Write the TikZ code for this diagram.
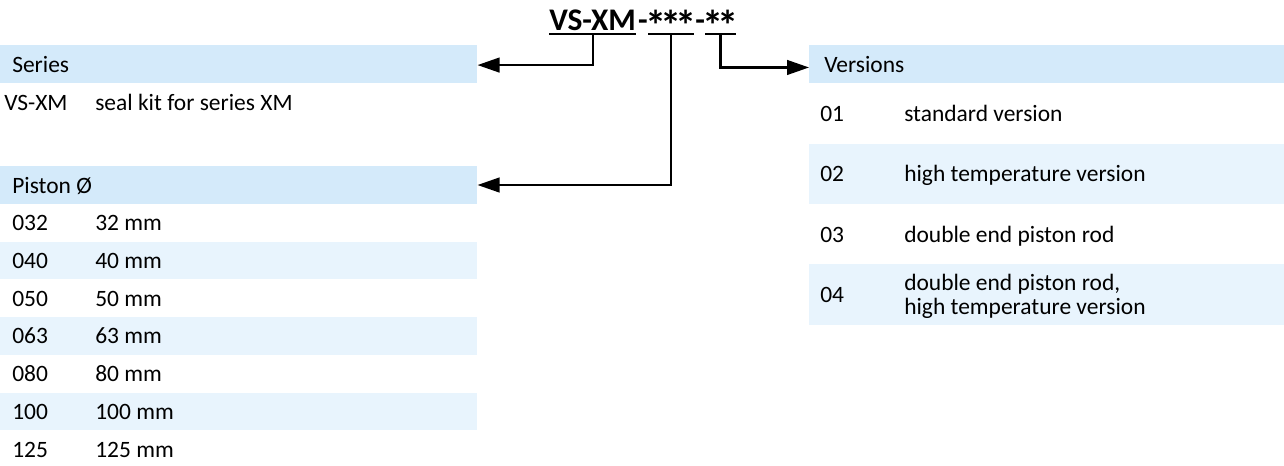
\documentclass[tikz,border=0pt]{standalone}
\usepackage{fontspec}
\usepackage{graphicx}
\setmainfont{Carlito}
\usetikzlibrary{arrows.meta}
\definecolor{hdrblue}{RGB}{212,234,250}
\definecolor{rowblue}{RGB}{232,244,253}
\newcommand\myast{\makebox[11.25pt][c]{\raisebox{-7.5pt}{\scalebox{1.35}{*}}}}
\newcommand\mydash{\hspace{1.2pt}-\hspace{1.2pt}}
\tikzset{
  hdr/.style={fill=hdrblue, anchor=north west, inner sep=0pt, minimum height=28.1pt},
  band/.style={fill=rowblue, anchor=north west, inner sep=0pt},
  txt/.style={anchor=base west, inner sep=0pt, font=\fontsize{17.6}{17.8}\selectfont},
  ttl/.style={anchor=base west, inner sep=0pt, font=\bfseries\fontsize{23.6}{28}\selectfont},
  conn/.style={line width=1.7pt, -{Triangle[length=16.5pt,width=11pt]}},
  uline/.style={line width=1.7pt}
}
\begin{document}
\begin{tikzpicture}[x=0.75pt,y=-0.75pt]
\useasboundingbox[fill=white] (0,0) rectangle (1284,465);

% ---------- title ----------
\node[ttl] (ta) at (549,30) {VS-XM};
\node[ttl] (d1) at (ta.base east) {\mydash};
\node[ttl] (tb) at (d1.base east) {\myast\myast\myast};
\node[ttl] (d2) at (tb.base east) {\mydash};
\node[ttl] (tc) at (d2.base east) {\myast\myast};
\draw[uline] ([yshift=-3pt]ta.base west) -- ([yshift=-3pt]ta.base east);
\draw[uline] ([yshift=-3pt]tb.base west) -- ([yshift=-3pt]tb.base east);
\draw[uline] ([yshift=-3pt]tc.base west) -- ([yshift=-3pt]tc.base east);

% ---------- series ----------
\node[hdr, minimum width=357.75pt] (series) at (0,45) {};
\node[txt] (serieslbl) at (12,72.5) {Series};
\node[txt] (s1c) at (4,110.5) {VS-XM};
\node[txt] (s1t) at (95,110.5) {seal kit for series XM};

% ---------- piston ----------
\node[hdr, minimum width=357.75pt] (piston) at (0,166) {};
\node[txt] (pistonlbl) at (12,193) {Piston Ø};
\foreach \i in {1,3,5}{
  \node[band, minimum width=357.75pt, minimum height=28.3pt] (pb\i) at (0,{203.5+37.75*\i}) {};
}
\foreach \c/\v [count=\i from 0] in {032/32 mm,040/40 mm,050/50 mm,063/63 mm,080/80 mm,100/100 mm,125/125 mm}{
  \node[txt] (pc\i) at (12,{230.5+37.75*\i}) {\c};
  \node[txt] (pv\i) at (95,{230.5+37.75*\i}) {\v};
}

% ---------- versions ----------
\node[hdr, minimum width=356.25pt] (ver) at (809,45) {};
\node[txt] (verlbl) at (824,72.5) {Versions};
\node[band, minimum width=356.25pt, minimum height=45.2pt] (vb2) at (809,143.3) {};
\node[band, minimum width=356.25pt, minimum height=45.2pt] (vb4) at (809,264) {};
\node[txt] (vc1) at (820,121) {01};
\node[txt] (vt1) at (904,121) {standard version};
\node[txt] (vc2) at (820,181.5) {02};
\node[txt] (vt2) at (904,181.5) {high temperature version};
\node[txt] (vc3) at (820,242) {03};
\node[txt] (vt3) at (904,242) {double end piston rod};
\node[txt] (vc4) at (820,302.5) {04};
\node[txt, text width=260pt, align=flush left] (vt4) at (904,290.7) {double end piston rod,\\high temperature version};

% ---------- connectors ----------
\draw[conn] ([yshift=-3pt]ta.base) |- ([yshift=-0.8pt]series.east);
\draw[conn] ([yshift=-3pt]tb.base) |- (piston.east);
\draw[conn] ([yshift=-3pt]tc.base) |- ([yshift=-2.6pt]ver.west);
\end{tikzpicture}
\end{document}
